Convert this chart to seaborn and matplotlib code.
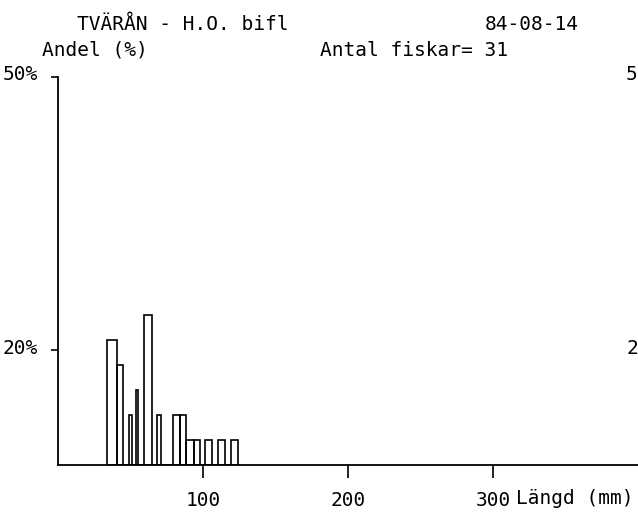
import matplotlib
matplotlib.use("Agg")
import matplotlib.pyplot as plt
import seaborn as sns

# ---- data ----
# length classes (mm): left / right edges, and number of fish in each
class_left = [34, 40.5, 49, 53.5, 59.5, 68.5, 79, 84, 88.5, 93.5, 101.5, 110, 119.5]
class_right = [40.5, 44.5, 51, 55.5, 64.5, 71, 84, 88.5, 93.5, 98, 106, 115, 124]
fish_counts = [5, 4, 2, 3, 6, 2, 2, 2, 1, 1, 1, 1, 1]
n_fish = 31

x_ticks = [100, 200, 300]
x_ticklabels = ["100", "200", "300"]
y_ticks = [14.8, 50]
y_ticklabels = ["20%", "50%"]

title_text = "TVÄRÅN - H.O. bifl"
date_text = "84-08-14"
ylabel_text = "Andel (%)"
count_text = "Antal fiskar= 31"
xlabel_text = "Längd (mm)"

# ---- derived ----
centers = [(l + r) / 2 for l, r in zip(class_left, class_right)]
pct = [c / n_fish * 100 for c in fish_counts]
edges = sorted(set(class_left + class_right))

sns.set_theme(style="white")
plt.rcParams["font.family"] = ["DejaVu Sans Mono", "DejaVu Sans"]

W, H = 638, 520
fig = plt.figure(figsize=(W / 100, H / 100), dpi=100)
fig.patch.set_facecolor("white")

def fx(x):
    return x / W

def fy(y):
    return 1 - y / H

ax_left, ax_right, ax_top, ax_bottom = 58, 638, 77, 465
ax = fig.add_axes([fx(ax_left), fy(ax_bottom), (ax_right - ax_left) / W, (ax_bottom - ax_top) / H])
ax.set_facecolor("white")

sns.histplot(x=centers, weights=pct, bins=edges, fill=False, element="bars",
             color="black", linewidth=1.2, ax=ax)

ax.set_xlim(0, 400)
ax.set_ylim(0, 50)
ax.set_xlabel("")
ax.set_ylabel("")

for s in ["top", "right"]:
    ax.spines[s].set_visible(False)
for s in ["left", "bottom"]:
    ax.spines[s].set_color("black")
    ax.spines[s].set_linewidth(1.3)

fs = 14
ax.set_xticks(x_ticks)
ax.set_xticklabels(x_ticklabels)
ax.set_yticks(y_ticks)
ax.set_yticklabels([])
ax.tick_params(axis="x", direction="out", length=9, width=1.2, color="black",
               labelsize=fs, labelcolor="black", pad=10, bottom=True)
ax.tick_params(axis="y", direction="out", length=5, width=1.2, color="black",
               left=True)

# y tick labels at the far left, and the (partly hidden) right-hand copies
for val, lab in zip(y_ticks, y_ticklabels):
    ypix = ax_bottom - val / 50 * (ax_bottom - ax_top) - 2
    fig.text(fx(3), fy(ypix), lab, fontsize=fs, ha="left", va="center", color="black")
    fig.text(fx(626), fy(ypix), lab[0], fontsize=fs, ha="left", va="center", color="black")

fig.text(fx(77), fy(25), title_text, fontsize=fs, ha="left", va="center", color="black")
fig.text(fx(485), fy(25), date_text, fontsize=fs, ha="left", va="center", color="black")
fig.text(fx(42), fy(50), ylabel_text, fontsize=fs, ha="left", va="center", color="black")
fig.text(fx(320), fy(50), count_text, fontsize=fs, ha="left", va="center", color="black")
fig.text(fx(516), fy(499), xlabel_text, fontsize=fs, ha="left", va="center", color="black")

fig.savefig("out.png", dpi=100, facecolor="white")
